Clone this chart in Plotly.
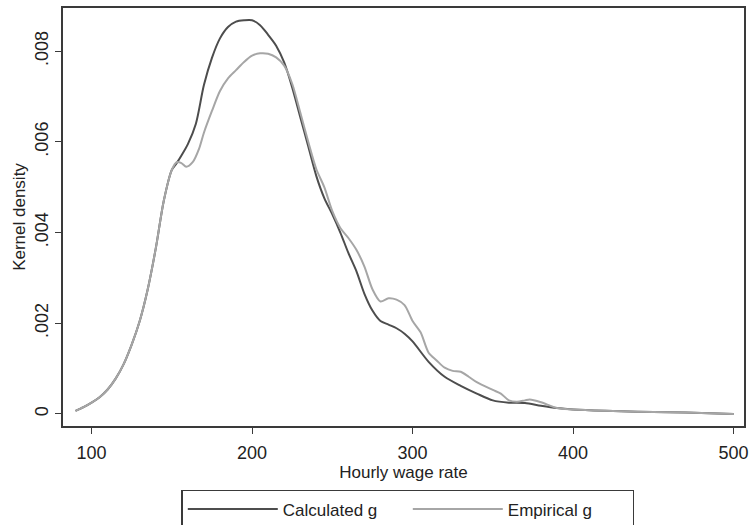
import plotly.graph_objects as go

# Hourly wage rate grid and kernel density values
calc_x = [90, 95, 100, 105, 110, 115, 120, 125, 130, 135, 140, 145, 150, 153, 156, 160,
          165, 170, 175, 180, 185, 190, 195, 200, 205, 210, 215, 220, 225, 230, 235, 240,
          245, 250, 255, 260, 265, 270, 275, 280, 285, 290, 295, 300, 310, 320, 330, 340,
          350, 360, 370, 380, 390, 400, 420, 440, 460, 480, 500]
calc_y = [0.00007, 0.00015, 0.00025, 0.00037, 0.00054, 0.00078, 0.00110, 0.00153, 0.00205,
          0.00275, 0.00365, 0.00470, 0.00538, 0.00553, 0.00570, 0.00595, 0.00640, 0.00725,
          0.00785, 0.00828, 0.00853, 0.00865, 0.00868, 0.00868, 0.00857, 0.00836, 0.00812,
          0.00775, 0.00720, 0.00655, 0.00590, 0.00525, 0.00476, 0.00440, 0.00400, 0.00355,
          0.00315, 0.00265, 0.00228, 0.00205, 0.00197, 0.00189, 0.00177, 0.00160, 0.00115,
          0.00082, 0.00062, 0.00045, 0.00030, 0.00025, 0.00024, 0.00018, 0.00013, 0.00010,
          0.00007, 0.00005, 0.00004, 0.00002, 0.00000]

emp_x = [90, 95, 100, 105, 110, 115, 120, 125, 130, 135, 140, 145, 150, 153, 156, 159,
         163, 167, 170, 175, 180, 185, 190, 195, 200, 205, 210, 215, 220, 225, 230, 235,
         240, 245, 250, 255, 260, 265, 270, 275, 280, 285, 290, 295, 300, 305, 310, 315,
         320, 325, 330, 335, 340, 350, 355, 360, 365, 370, 373, 380, 390, 400, 420, 440,
         460, 480, 500]
emp_y = [0.00007, 0.00015, 0.00025, 0.00037, 0.00054, 0.00078, 0.00110, 0.00153, 0.00205,
         0.00275, 0.00365, 0.00470, 0.00538, 0.00555, 0.00553, 0.00545, 0.00555, 0.00585,
         0.00620, 0.00668, 0.00712, 0.00740, 0.00758, 0.00776, 0.00790, 0.00795, 0.00794,
         0.00786, 0.00768, 0.00728, 0.00665, 0.00600, 0.00540, 0.00500, 0.00447, 0.00410,
         0.00388, 0.00362, 0.00325, 0.00275, 0.00248, 0.00255, 0.00252, 0.00240, 0.00205,
         0.00180, 0.00135, 0.00118, 0.00102, 0.00095, 0.00093, 0.00082, 0.00070, 0.00053,
         0.00045, 0.00030, 0.00027, 0.00030, 0.00032, 0.00026, 0.00013, 0.00010, 0.00007,
         0.00005, 0.00004, 0.00002, 0.00000]

x_ticks = [100, 200, 300, 400, 500]
y_ticks = [0, 0.002, 0.004, 0.006, 0.008]
y_tick_labels = ["0", ".002", ".004", ".006", ".008"]

FONT = "Liberation Sans, Arial, sans-serif"

fig = go.Figure()
fig.add_trace(go.Scatter(x=calc_x, y=calc_y, mode="lines", name="Calculated g",
                         line=dict(color="#4d4d4d", width=2, shape="spline", smoothing=0.8)))
fig.add_trace(go.Scatter(x=emp_x, y=emp_y, mode="lines", name="Empirical g",
                         line=dict(color="#a6a6a6", width=2, shape="spline", smoothing=0.8)))

axis_common = dict(showline=True, linecolor="#3a3a3a", linewidth=1.5, mirror=True,
                   ticks="outside", ticklen=6, tickcolor="#3a3a3a", tickwidth=1.2,
                   showgrid=False, zeroline=False, automargin=False,
                   tickfont=dict(family=FONT, size=18, color="#222"))

fig.update_layout(
    width=751, height=525,
    margin=dict(l=63, r=7, t=8, b=99),
    paper_bgcolor="white", plot_bgcolor="white",
    font=dict(family=FONT, size=16, color="#222"),
    xaxis=dict(range=[82.2, 506.5], tickvals=x_ticks, ticklabelstandoff=4,
               title=dict(text="Hourly wage rate", font=dict(family=FONT, size=17), standoff=0),
               **axis_common),
    yaxis=dict(range=[-0.000265, 0.00895], tickvals=y_ticks, ticktext=y_tick_labels,
               tickangle=-90,
               title=dict(text="Kernel density", font=dict(family=FONT, size=17), standoff=2),
               **axis_common),
    legend=dict(orientation="h", xref="container", yref="container",
                x=0.543, xanchor="center", y=0.067, yanchor="top",
                bordercolor="#3a3a3a", borderwidth=1.5, bgcolor="white",
                font=dict(family=FONT, size=17, color="#222"),
                entrywidth=120, itemwidth=90),
    showlegend=True,
)

fig.write_html("out.html", config={"displayModeBar": False},
               post_script="document.body.style.margin='0';document.body.style.overflow='hidden';")
